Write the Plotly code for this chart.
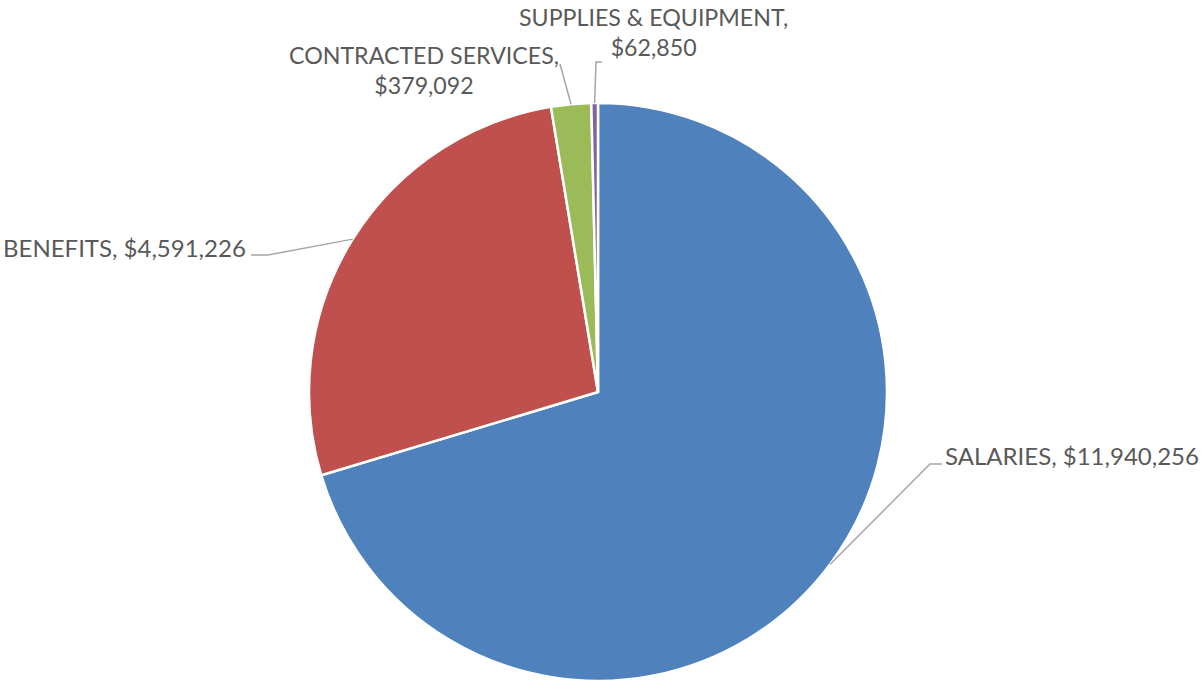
import numpy as np
import plotly.graph_objects as go

# Expense categories and amounts
categories = ["SALARIES", "BENEFITS", "CONTRACTED SERVICES", "SUPPLIES & EQUIPMENT"]
amounts = [11940256, 4591226, 379092, 62850]
colors = ["#4F81BD", "#C0504D", "#9BBB59", "#8064A2"]

W, H = 1201, 681
FONT = "Lato"
TEXT_COLOR = "#595959"
LINE_COLOR = "#A6A6A6"

# Pie placement in pixels (center x, top of pie box, radius)
CX, TOP, R = 598, 103, 289
CY = TOP + R


def px(x, y):
    """Pixel position -> paper coordinates."""
    return x / W, 1 - y / H


dom_x = [(CX - R) / W, (CX + R) / W]
dom_y = [max(0.0, 1 - (TOP + 2 * R) / H), 1 - TOP / H]

fig = go.Figure(
    go.Pie(
        labels=categories,
        values=amounts,
        sort=False,
        direction="clockwise",
        rotation=0,
        marker=dict(colors=colors, line=dict(color="white", width=2.5)),
        textinfo="none",
        hoverinfo="label+value",
        showlegend=False,
        domain=dict(x=dom_x, y=dom_y),
    )
)

# Label placement: text anchor, alignment, leader-line elbow and end
label_layout = [
    dict(text_xy=(943, 455), xanchor="left", elbow=(930, 464), end=(942, 464), br=False, size=24),
    dict(text_xy=(248, 248), xanchor="right", elbow=(268, 255), end=(251, 255), br=False, size=24),
    dict(text_xy=(424, 70), xanchor="center", elbow=(560, 64), end=(560, 64), br=True, size=23.2),
    dict(text_xy=(653, 32), xanchor="center", elbow=(596, 62), end=(602, 62), br=True, size=23.2),
]

total = float(sum(amounts))
cum = np.cumsum([0] + amounts) / total
annotations = []
shapes = []
for i, (cat, val) in enumerate(zip(categories, amounts)):
    spec = label_layout[i]
    sep = ",<br>" if spec["br"] else ", "
    label = f"{cat}{sep}${val:,}"
    tx, ty = px(*spec["text_xy"])
    annotations.append(
        dict(
            text=label,
            x=tx,
            y=ty,
            xref="paper",
            yref="paper",
            xanchor=spec["xanchor"],
            yanchor="middle",
            align="center",
            showarrow=False,
            font=dict(family=FONT, size=spec["size"], color=TEXT_COLOR),
        )
    )
    # leader line starts on the slice edge at its mid angle
    mid = 2 * np.pi * (cum[i] + cum[i + 1]) / 2
    ex, ey = CX + R * np.sin(mid), CY - R * np.cos(mid)
    p0 = px(ex, ey)
    p1 = px(*spec["elbow"])
    p2 = px(*spec["end"])
    shapes.append(
        dict(
            type="path",
            xref="paper",
            yref="paper",
            path=f"M {p0[0]},{p0[1]} L {p1[0]},{p1[1]} L {p2[0]},{p2[1]}",
            line=dict(color=LINE_COLOR, width=1.5),
        )
    )

fig.update_layout(
    width=W,
    height=H,
    margin=dict(l=0, r=0, t=0, b=0),
    paper_bgcolor="white",
    plot_bgcolor="white",
    annotations=annotations,
    shapes=shapes,
)

fig.write_html("out.html")
